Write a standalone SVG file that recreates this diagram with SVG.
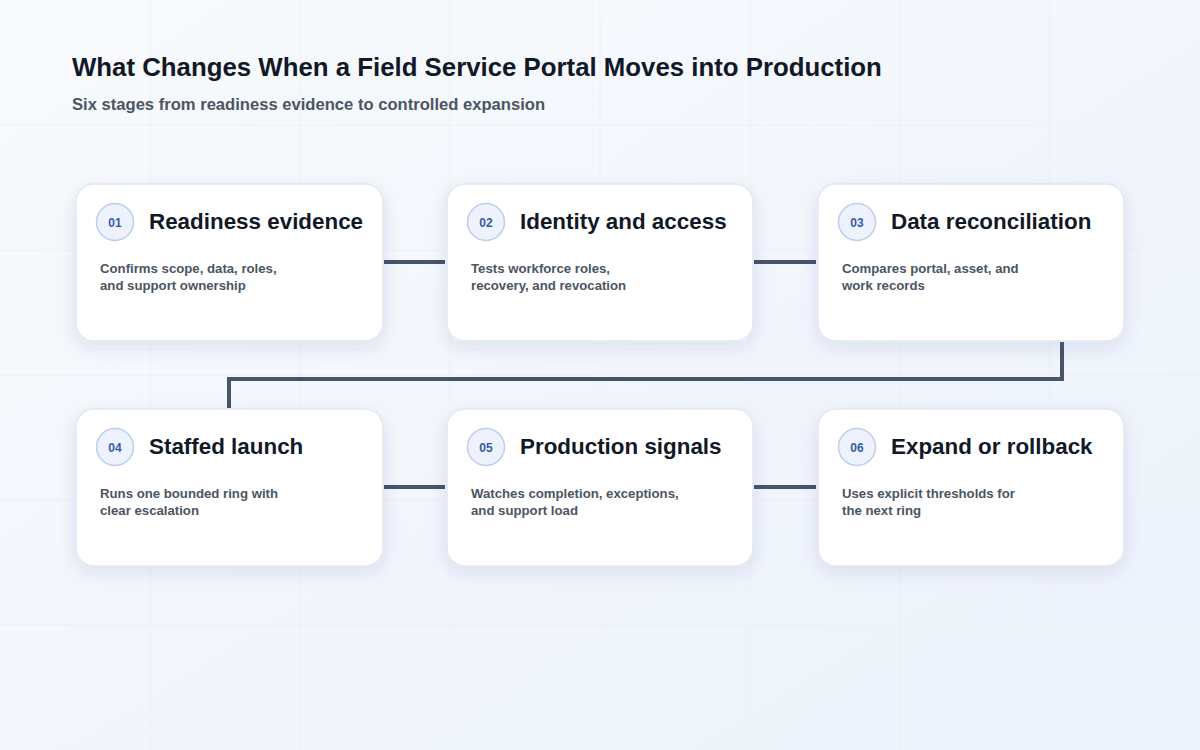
<svg xmlns="http://www.w3.org/2000/svg" width="1200" height="750" viewBox="0 0 1200 750">
<defs>
<linearGradient id="bg" x1="0" y1="0" x2="1" y2="1">
<stop offset="0" stop-color="#f8fafc"/>
<stop offset="1" stop-color="#edf2fb"/>
</linearGradient>
<filter id="sh" x="-20%" y="-20%" width="140%" height="150%">
<feDropShadow dx="0" dy="6" stdDeviation="9" flood-color="#1e3a8a" flood-opacity="0.11"/>
</filter>
</defs>
<style>
.grid{stroke:#e9edf4;stroke-width:1;opacity:0.7}
.card{fill:#ffffff;stroke:#e2e8f0;stroke-width:1.5;filter:url(#sh)}
.badge{fill:#eef2fd;stroke:#bccdee;stroke-width:1.5}
.num{font-family:"Liberation Sans",Arial,sans-serif;font-size:12px;font-weight:700;fill:#3a5aa8;text-anchor:middle}
.ttl{font-family:"Liberation Sans",Arial,sans-serif;font-size:22.4px;font-weight:700;fill:#111827}
.desc{font-family:"Liberation Sans",Arial,sans-serif;font-size:13.2px;font-weight:700;fill:#4b5563}
.conn{fill:none;stroke:#475569;stroke-width:4}
</style>
<rect width="1200" height="750" fill="url(#bg)"/>
<g id="grid">
<line class="grid" x1="150" y1="0" x2="150" y2="750"/>
<line class="grid" x1="300" y1="0" x2="300" y2="750"/>
<line class="grid" x1="450" y1="0" x2="450" y2="750"/>
<line class="grid" x1="600" y1="0" x2="600" y2="750"/>
<line class="grid" x1="750" y1="0" x2="750" y2="750"/>
<line class="grid" x1="900" y1="0" x2="900" y2="750"/>
<line class="grid" x1="1050" y1="0" x2="1050" y2="750"/>
<line class="grid" x1="0" y1="125" x2="1200" y2="125"/>
<line class="grid" x1="0" y1="250" x2="1200" y2="250"/>
<line class="grid" x1="0" y1="375" x2="1200" y2="375"/>
<line class="grid" x1="0" y1="500" x2="1200" y2="500"/>
<line class="grid" x1="0" y1="625" x2="1200" y2="625"/>
</g>
<text x="72" y="76" font-family="Liberation Sans, Arial, sans-serif" font-size="25.8" font-weight="700" fill="#111827">What Changes When a Field Service Portal Moves into Production</text>
<text x="72" y="110" font-family="Liberation Sans, Arial, sans-serif" font-size="16.6" font-weight="700" fill="#4b5563">Six stages from readiness evidence to controlled expansion</text>
<g id="connectors">
<line class="conn" x1="384" y1="262" x2="445" y2="262"/>
<line class="conn" x1="754" y1="262" x2="816" y2="262"/>
<polyline class="conn" points="1062,342 1062,379 229,379 229,408"/>
<line class="conn" x1="384" y1="487" x2="445" y2="487"/>
<line class="conn" x1="754" y1="487" x2="816" y2="487"/>
</g>
<g id="node1">
<rect class="card" x="76" y="184" width="307" height="157" rx="18"/>
<circle class="badge" cx="115" cy="222" r="18.5"/>
<text class="num" x="115" y="226.5">01</text>
<text class="ttl" x="149" y="229">Readiness evidence</text>
<text class="desc" x="100" y="273">Confirms scope, data, roles,</text>
<text class="desc" x="100" y="290">and support ownership</text>
</g>
<g id="node2">
<rect class="card" x="447" y="184" width="306" height="157" rx="18"/>
<circle class="badge" cx="486" cy="222" r="18.5"/>
<text class="num" x="486" y="226.5">02</text>
<text class="ttl" x="520" y="229">Identity and access</text>
<text class="desc" x="471" y="273">Tests workforce roles,</text>
<text class="desc" x="471" y="290">recovery, and revocation</text>
</g>
<g id="node3">
<rect class="card" x="818" y="184" width="306" height="157" rx="18"/>
<circle class="badge" cx="857" cy="222" r="18.5"/>
<text class="num" x="857" y="226.5">03</text>
<text class="ttl" x="891" y="229">Data reconciliation</text>
<text class="desc" x="842" y="273">Compares portal, asset, and</text>
<text class="desc" x="842" y="290">work records</text>
</g>
<g id="node4">
<rect class="card" x="76" y="409" width="307" height="157" rx="18"/>
<circle class="badge" cx="115" cy="447" r="18.5"/>
<text class="num" x="115" y="451.5">04</text>
<text class="ttl" x="149" y="454">Staffed launch</text>
<text class="desc" x="100" y="498">Runs one bounded ring with</text>
<text class="desc" x="100" y="515">clear escalation</text>
</g>
<g id="node5">
<rect class="card" x="447" y="409" width="306" height="157" rx="18"/>
<circle class="badge" cx="486" cy="447" r="18.5"/>
<text class="num" x="486" y="451.5">05</text>
<text class="ttl" x="520" y="454">Production signals</text>
<text class="desc" x="471" y="498">Watches completion, exceptions,</text>
<text class="desc" x="471" y="515">and support load</text>
</g>
<g id="node6">
<rect class="card" x="818" y="409" width="306" height="157" rx="18"/>
<circle class="badge" cx="857" cy="447" r="18.5"/>
<text class="num" x="857" y="451.5">06</text>
<text class="ttl" x="891" y="454">Expand or rollback</text>
<text class="desc" x="842" y="498">Uses explicit thresholds for</text>
<text class="desc" x="842" y="515">the next ring</text>
</g>
</svg>
